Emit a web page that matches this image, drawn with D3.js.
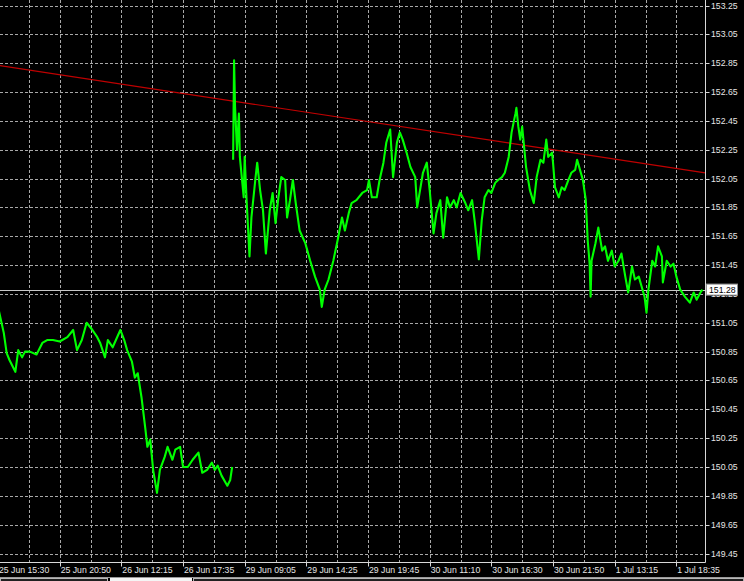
<!DOCTYPE html>
<html><head><meta charset="utf-8">
<script src="https://cdn.jsdelivr.net/npm/d3@7"></script>
<style>
html,body{margin:0;padding:0;background:#000;}
svg{display:block;}
text{font-family:"Liberation Sans",Arial,sans-serif;font-size:8.7px;fill:#e6e6e6;}
</style></head>
<body>
<script>
// ---- data ----
const timeLabels = ["25 Jun 15:30","25 Jun 20:50","26 Jun 12:15","26 Jun 17:35","29 Jun 09:05","29 Jun 14:25","29 Jun 19:45","30 Jun 11:10","30 Jun 16:30","30 Jun 21:50","1 Jul 13:15","1 Jul 18:35"];
const barsPerLabel = 64;
const barsPerGrid = 32;
const priceTicks = [153.25,153.05,152.85,152.65,152.45,152.25,152.05,151.85,151.65,151.45,151.25,151.05,150.85,150.65,150.45,150.25,150.05,149.85,149.65,149.45];

const bars1 = [0,6,9,12,18,21,25,28,33,40,46,51,57,64,72,78,82,87,92,98,103,106,111,114,119,127,131,134,139,142,145,149,153,155,158,161,165,168,173,176,181,184,189,192,197,202,208,212,217,222,225,228,232,238,241,243];
const prices1 = [151.16,150.98,150.84,150.79,150.71,150.86,150.81,150.85,150.85,150.83,150.91,150.93,150.93,150.92,150.95,151.00,150.86,150.93,151.05,151.00,150.95,150.91,150.81,150.93,150.88,151.00,150.93,150.86,150.78,150.67,150.70,150.53,150.31,150.19,150.24,150.03,149.87,150.03,150.12,150.19,150.10,150.17,150.19,150.05,150.05,150.10,150.15,150.01,150.03,150.08,150.03,150.06,149.99,149.92,149.96,150.05];

const bars2 = [244,245,246,248,250,251,253,255,256,258,261,263,267,269,272,275,278,282,285,288,291,294,298,300,303,306,309,313,319,324,329,334,336,339,343,348,353,357,360,364,367,372,378,383,385,388,393,396,400,403,407,410,414,417,420,424,428,433,435,438,441,445,448,452,455,459,462,466,469,473,476,480,485,488,492,495,499,502,505,509,512,516,519,523,526,530,533,537,538,540,542,544,545,548,552,556,559,563,566,569,571,575,576,578,582,585,588,592,595,599,601,604,607,610,612,614,615,616,620,623,627,630,633,637,640,644,647,651,654,658,661,665,668,671,673,675,679,682,685,689,690,694,698,701,704,708,713,718,722,725,729,731];
const prices2 = [152.18,152.87,152.55,152.25,152.50,152.20,152.06,151.92,152.20,151.90,151.51,151.78,152.04,152.16,151.97,151.83,151.53,151.83,151.95,151.74,151.92,152.06,152.04,151.78,151.90,152.04,151.88,151.69,151.60,151.48,151.37,151.28,151.16,151.28,151.35,151.48,151.64,151.78,151.69,151.81,151.88,151.90,151.95,151.97,152.04,151.92,151.92,152.04,152.16,152.30,152.39,152.06,152.30,152.37,152.32,152.23,152.13,152.06,151.85,151.97,152.09,152.16,151.97,151.67,151.81,151.90,151.64,151.92,151.85,151.90,151.85,151.95,151.88,151.83,151.90,151.74,151.49,151.76,151.92,151.97,151.95,152.02,152.04,152.06,152.09,152.20,152.37,152.50,152.54,152.41,152.32,152.41,152.34,152.13,151.97,151.88,152.06,152.18,152.16,152.32,152.20,152.23,152.16,151.99,151.92,151.99,151.97,152.04,152.09,152.11,152.18,152.11,152.04,151.90,151.62,151.46,151.23,151.48,151.60,151.71,151.55,151.58,151.48,151.55,151.44,151.48,151.53,151.37,151.26,151.44,151.35,151.37,151.30,151.23,151.12,151.28,151.48,151.44,151.58,151.51,151.33,151.48,151.44,151.46,151.37,151.28,151.23,151.19,151.26,151.21,151.26,151.28];

const trendBars = [0, 734];
const trendPrices = [152.835, 152.09];
const lastPrice = 151.28;

// ---- layout ----
const W = 744, H = 581;
const plotRight = 705.5, plotBottom = 562.5;
const svg = d3.select("body").append("svg").attr("width", W).attr("height", H);
svg.append("rect").attr("width", W).attr("height", H).attr("fill", "#000");

const x = d3.scaleLinear().domain([0, 734]).range([-2, 705.27]);
const y = d3.scaleLinear().domain([149.45, 153.25]).range([553.5, 5.5]);

const plot = svg.append("g");
svg.append("clipPath").attr("id","clip").append("rect").attr("x",0).attr("y",0).attr("width",plotRight).attr("height",plotBottom);
plot.attr("clip-path","url(#clip)");

// grid
const gridBars = d3.range(barsPerGrid, 734, barsPerGrid);
plot.selectAll("line.vg").data(gridBars).join("line")
  .attr("x1", d => Math.round(x(d)) + 0.5).attr("x2", d => Math.round(x(d)) + 0.5)
  .attr("y1", 0).attr("y2", plotBottom)
  .attr("stroke", "#a8a8a8").attr("stroke-width", 1).attr("stroke-dasharray", "3,2");
plot.selectAll("line.hg").data(priceTicks).join("line")
  .attr("x1", 0).attr("x2", plotRight)
  .attr("y1", d => Math.round(y(d)) + 0.5).attr("y2", d => Math.round(y(d)) + 0.5)
  .attr("stroke", "#a8a8a8").attr("stroke-width", 1).attr("stroke-dasharray", "3,2");

// horizontal price line
plot.append("line").attr("x1",0).attr("x2",plotRight)
  .attr("y1", Math.round(y(lastPrice))+0.5).attr("y2", Math.round(y(lastPrice))+0.5)
  .attr("stroke","#c8c8c8").attr("stroke-width",1);

// trend line
plot.append("line")
  .attr("x1", x(trendBars[0])).attr("y1", y(trendPrices[0]))
  .attr("x2", x(trendBars[1])).attr("y2", y(trendPrices[1]))
  .attr("stroke","#c00000").attr("stroke-width",1.2);

// price lines
const line = d3.line().x(d => x(d[0])).y(d => y(d[1]));
plot.append("path").datum(bars1.map((b,i)=>[b,prices1[i]]))
  .attr("d", line).attr("fill","none").attr("stroke","#00ff00").attr("stroke-width",2.1).attr("stroke-linejoin","round");
plot.append("path").datum(bars2.map((b,i)=>[b,prices2[i]]))
  .attr("d", line).attr("fill","none").attr("stroke","#00ff00").attr("stroke-width",2.1).attr("stroke-linejoin","round");

// axes frame
svg.append("line").attr("x1",plotRight).attr("x2",plotRight).attr("y1",0).attr("y2",plotBottom).attr("stroke","#d8d8d8");
svg.append("line").attr("x1",0).attr("x2",plotRight).attr("y1",plotBottom).attr("y2",plotBottom).attr("stroke","#d8d8d8");

// right axis
const ra = svg.append("g");
ra.selectAll("line").data(priceTicks).join("line")
  .attr("x1",plotRight).attr("x2",plotRight+4)
  .attr("y1", d => Math.round(y(d))+0.5).attr("y2", d => Math.round(y(d))+0.5)
  .attr("stroke","#d8d8d8");
ra.selectAll("text").data(priceTicks).join("text")
  .attr("x", 711).attr("y", d => y(d)).attr("dy","0.35em")
  .text(d => d3.format(".2f")(d));

// last price label
const ly = y(lastPrice);
svg.append("rect").attr("x",706.5).attr("y",ly-5.5).attr("width",31).attr("height",11)
  .attr("fill","#ffffff").attr("stroke","#909090");
svg.append("text").attr("x",709).attr("y",ly).attr("dy","0.35em").style("fill","#000").text(d3.format(".2f")(lastPrice));

// bottom axis
const ba = svg.append("g");
const labelBars = timeLabels.map((t,i)=>i*barsPerLabel);
ba.selectAll("line").data(labelBars).join("line")
  .attr("x1", d => Math.round(x(d))+0.5).attr("x2", d => Math.round(x(d))+0.5)
  .attr("y1", plotBottom).attr("y2", plotBottom+4).attr("stroke","#d8d8d8");
ba.selectAll("text").data(timeLabels).join("text")
  .attr("x", (d,i) => x(labelBars[i]) + 1).attr("y", 573)
  .text(d => d);

// tab strip
svg.append("line").attr("x1",0).attr("x2",W).attr("y1",577.5).attr("y2",577.5).attr("stroke","#9a9a9a");
svg.append("rect").attr("x",0.5).attr("y",578.5).attr("width",107).attr("height",4).attr("fill","#202020").attr("stroke","#b8b8b8");
svg.append("rect").attr("x",110).attr("y",578).attr("width",82).attr("height",3).attr("fill","#f4f4f4");
svg.append("rect").attr("x",193.5).attr("y",578.5).attr("width",550).attr("height",4).attr("fill","#202020").attr("stroke","#b8b8b8");
</script>
</body></html>
